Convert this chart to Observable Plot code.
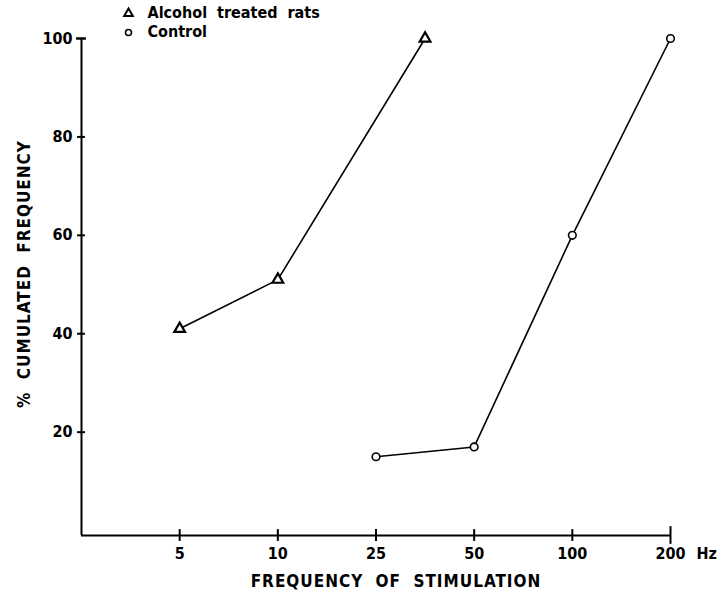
<!DOCTYPE html>
<html><head><meta charset="utf-8">
<script src="https://cdn.jsdelivr.net/npm/d3@7"></script>
<script src="https://cdn.jsdelivr.net/npm/@observablehq/plot@0.6"></script>
<style>body{margin:0;background:#fff}</style>
</head><body><div id="chart"></div>
<script>
// x axis: equally spaced stimulation frequencies (position index)
const xTickLabels = ["5", "10", "25", "50", "100", "200"];
const xTickPos = [0, 1, 2, 3, 4, 5];
const yTicks = [20, 40, 60, 80, 100];
// Alcohol treated rats (x = position on frequency axis)
const alcoholX = [0, 1, 2.5];
const alcoholY = [41, 51, 100];
// Control
const controlX = [2, 3, 4, 5];
const controlY = [15, 17, 60, 100];
const xTitle = "FREQUENCY OF STIMULATION";
const yTitle = "% CUMULATED FREQUENCY";

const alcohol = alcoholX.map((x, i) => ({x, y: alcoholY[i]}));
const control = controlX.map((x, i) => ({x, y: controlY[i]}));

const font = "DejaVu Sans Condensed, DejaVu Sans, sans-serif";

const chart = Plot.plot({
  width: 726, height: 594,
  marginLeft: 81, marginRight: 56, marginTop: 38, marginBottom: 59,
  style: {fontFamily: font, fontSize: "16px", fontWeight: "bold", color: "#000", background: "#fff"},
  x: {domain: [-1, 5], axis: null},
  y: {domain: [-1, 100], axis: null},
  marks: [
    // axis lines
    Plot.ruleX([-1], {y1: -1, y2: 100, stroke: "#000", strokeWidth: 2}),
    Plot.ruleY([-1], {x1: -1, x2: 5, stroke: "#000", strokeWidth: 2}),
    // crossing ticks
    Plot.ruleX(xTickPos.slice(0, 5), {x: d => d, y1: -2.2, y2: 0.2, stroke: "#000", strokeWidth: 2}),
    Plot.ruleX([5], {y1: -2.8, y2: 0.8, stroke: "#000", strokeWidth: 2}),
    Plot.ruleY(yTicks.slice(0, 4), {y: d => d, x1: -1.04, x2: -0.96, stroke: "#000", strokeWidth: 2}),
    Plot.ruleY([100], {x1: -1.05, x2: -0.95, stroke: "#000", strokeWidth: 2.5}),
    // tick labels
    Plot.text(xTickPos, {x: d => d, y: -1, text: (d, i) => xTickLabels[i], dy: 18, lineAnchor: "middle", fontSize: 16}),
    Plot.text(["Hz"], {x: 5, y: -1, text: d => d, dx: 26, dy: 18, textAnchor: "start", lineAnchor: "middle", fontSize: 16}),
    Plot.text(yTicks, {x: -1, y: d => d, text: d => String(d), dx: -9, textAnchor: "end", lineAnchor: "middle", fontSize: 16}),
    // axis titles
    Plot.text([xTitle], {frameAnchor: "bottom", dy: 46, dx: 20, textAnchor: "middle", lineAnchor: "middle", fontSize: 17}),
    Plot.text([yTitle], {frameAnchor: "left", dx: -57, dy: -13, rotate: -90, textAnchor: "middle", lineAnchor: "middle", fontSize: 17}),
    // data
    Plot.line(alcohol, {x: "x", y: "y", stroke: "#000", strokeWidth: 1.6}),
    Plot.line(control, {x: "x", y: "y", stroke: "#000", strokeWidth: 1.6}),
    Plot.dot(alcohol, {x: "x", y: "y", symbol: "triangle", r: 4, fill: "#fff", stroke: "#000", strokeWidth: 2.2}),
    Plot.dot(control, {x: "x", y: "y", symbol: "circle", r: 3.8, fill: "#fff", stroke: "#000", strokeWidth: 1.6}),
    // legend
    Plot.dot(["a"], {frameAnchor: "top-left", dx: 47, dy: -25, symbol: "triangle", r: 3.2, fill: "#fff", stroke: "#000", strokeWidth: 2}),
    Plot.dot(["c"], {frameAnchor: "top-left", dx: 47, dy: -6, symbol: "circle", r: 3, fill: "#fff", stroke: "#000", strokeWidth: 1.6}),
    Plot.text(["Alcohol  treated  rats"], {frameAnchor: "top-left", dx: 66, dy: -26, textAnchor: "start", lineAnchor: "middle", fontSize: 16}),
    Plot.text(["Control"], {frameAnchor: "top-left", dx: 66, dy: -7, textAnchor: "start", lineAnchor: "middle", fontSize: 16})
  ]
});
d3.select(chart).selectAll("text")
  .filter(function() { return this.textContent === xTitle || this.textContent === yTitle; })
  .style("letter-spacing", "1px").style("word-spacing", "6px");
document.getElementById("chart").appendChild(chart);
</script></body></html>
